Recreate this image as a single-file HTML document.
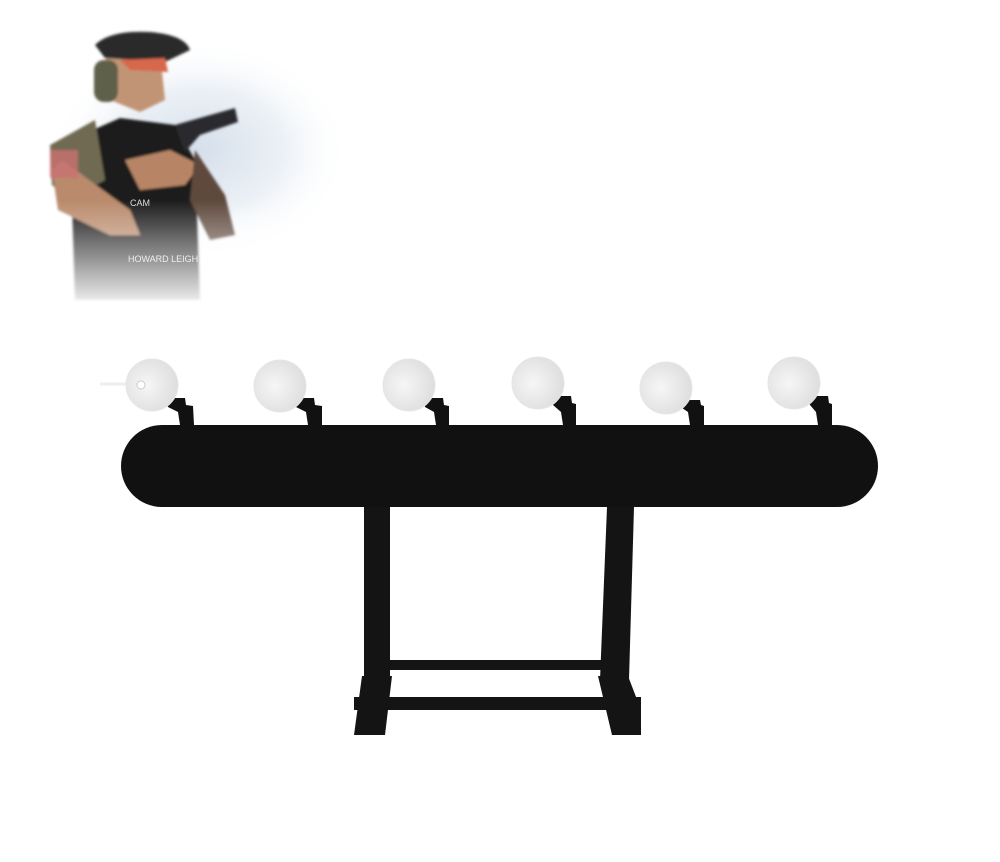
<!DOCTYPE html>
<html><head><style>
html,body{margin:0;padding:0;background:#fff;}
svg{display:block}
</style></head><body>
<svg width="1000" height="862" viewBox="0 0 1000 862" xmlns="http://www.w3.org/2000/svg">
<defs>
<radialGradient id="sky" cx="0.5" cy="0.5" r="0.5">
<stop offset="0" stop-color="#c4d2e2"/><stop offset="0.55" stop-color="#e3eaf2"/><stop offset="1" stop-color="#fff" stop-opacity="0"/>
</radialGradient>
<linearGradient id="fade" x1="0" y1="0" x2="0" y2="1">
<stop offset="0" stop-color="#fff" stop-opacity="0"/><stop offset="1" stop-color="#fff" stop-opacity="1"/>
</linearGradient>
<radialGradient id="plate" cx="0.4" cy="0.5" r="0.6">
<stop offset="0" stop-color="#f6f6f6"/><stop offset="1" stop-color="#dedede"/>
</radialGradient>
<filter id="bl"><feGaussianBlur stdDeviation="1.2"/></filter>
</defs>
<!-- photo -->
<ellipse cx="200" cy="150" rx="150" ry="110" fill="url(#sky)" opacity="0.7"/>
<g filter="url(#bl)">
<path d="M70 140 L120 118 L175 125 L195 160 L200 300 L75 300 Z" fill="#1b1b1d"/>
<path d="M50 145 L95 120 L105 180 L70 200 L52 185 Z" fill="#6f6a52"/>
<path d="M52 170 L62 160 L130 210 L140 235 L110 235 L58 210 Z" fill="#b98a6c"/>
<path d="M125 160 L170 150 L200 165 L185 185 L140 190 Z" fill="#b78566"/>
<path d="M195 150 L225 195 L235 235 L210 240 L190 200 Z" fill="#5e4a3e"/>
<path d="M175 125 L235 108 L238 122 L200 135 L185 152 Z" fill="#2c2c2e"/>
<path d="M105 50 L160 52 L165 100 L140 112 L110 100 Z" fill="#c29476"/>
<path d="M95 45 Q110 30 150 32 Q185 35 190 50 L165 62 L105 58 Z" fill="#2a2a2a"/>
<rect x="94" y="60" width="24" height="42" rx="10" fill="#5f6148"/>
<path d="M120 60 L165 58 L168 72 L130 70 Z" fill="#d8674c"/>
<rect x="50" y="150" width="28" height="28" fill="#c97070" opacity="0.8"/>
</g>
<text x="130" y="206" font-family="Liberation Sans, sans-serif" font-size="9" fill="#ddd">CAM</text>
<text x="128" y="262" font-family="Liberation Sans, sans-serif" font-size="9" fill="#ddd">HOWARD LEIGH</text>
<rect x="40" y="200" width="260" height="110" fill="url(#fade)"/>
<!-- plates -->
<line x1="100" y1="384" x2="140" y2="384" stroke="#eee" stroke-width="3"/>
<g fill="#111">
<path d="M165 398 L185 398 L186 405 L193 406 L194 425 L180 425 L178 412 L168 407 Z"/>
<path d="M294 398 L314 398 L315 405 L322 406 L322 425 L308 425 L306 412 L296 407 Z"/>
<path d="M423 398 L443 398 L444 405 L449 406 L449 425 L436 425 L434 412 L425 407 Z"/>
<path d="M551 396 L571 396 L572 403 L576 404 L576 425 L563 425 L561 412 L553 405 Z"/>
<path d="M680 400 L700 400 L701 405 L704 406 L704 425 L690 425 L688 412 L682 408 Z"/>
<path d="M808 396 L828 396 L829 403 L832 404 L832 425 L818 425 L816 412 L810 405 Z"/>
</g>
<g fill="url(#plate)" stroke="#e6e6e6">
<circle cx="152" cy="385" r="26"/>
<circle cx="280" cy="386" r="26"/>
<circle cx="409" cy="385" r="26"/>
<circle cx="538" cy="383" r="26"/>
<circle cx="666" cy="388" r="26"/>
<circle cx="794" cy="383" r="26"/>
</g>
<circle cx="141" cy="385" r="4" fill="#fff" stroke="#ccc"/>
<!-- bar -->
<rect x="121" y="425" width="757" height="82" rx="41" fill="#111"/>
<!-- legs -->
<g fill="#141414">
<rect x="364" y="507" width="26" height="175"/>
<path d="M607 507 L634 507 L629 680 L600 680 Z"/>
<rect x="388" y="660" width="215" height="10"/>
<path d="M362 676 L392 676 L385 735 L354 735 Z"/>
<path d="M598 676 L628 676 L641 710 L641 735 L612 735 Z"/>
<rect x="354" y="697" width="287" height="13"/>
</g>
</svg>
</body></html>
